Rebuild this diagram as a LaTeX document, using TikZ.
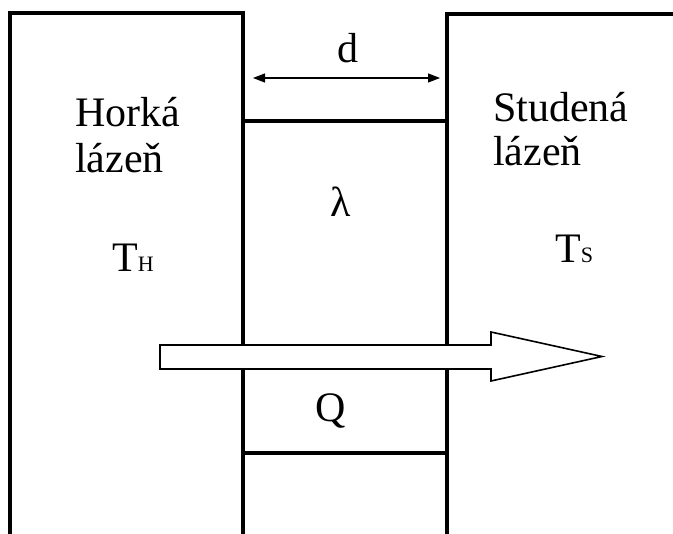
\documentclass[tikz,border=0pt]{standalone}
\usepackage{fontspec}
\setmainfont{Liberation Serif}
\usepackage{tikz}
\usetikzlibrary{arrows.meta}
\tikzset{
  wall/.style={line width=4pt,line join=miter},
  dim/.style={{Triangle[length=12pt,width=9pt]}-{Triangle[length=12pt,width=9pt]},line width=1.2pt},
  flow/.style={draw,fill=white,line width=1.6pt,line join=miter},
  lbl/.style={inner sep=0pt,anchor=base west,font=\fontsize{42}{46}\selectfont},
}
\newcommand{\sub}[1]{{\fontsize{22}{22}\selectfont #1}}
\begin{document}
\begin{tikzpicture}[x=1pt,y=-1pt]
 \useasboundingbox (0,0) rectangle (673,534);
 % baths and slab
 \coordinate (hl) at (10,534); \coordinate (ht) at (243,13); \coordinate (cl) at (447,14);
 \draw[wall] (hl) |- (ht) -- (243,534);
 \draw[wall] (447,534) -- (cl) -- (673,14);
 \draw[wall] (243,121) coordinate (s1) -- (447,121) coordinate (s2);
 \draw[wall] (243,453) coordinate (s3) -- (447,453) coordinate (s4);
 % thickness d
 \coordinate (da) at (253,78); \coordinate (db) at (440,78);
 \draw[dim] (da) -- (db);
 \node[lbl] (d) at (337,63){d};
 % heat flow
 \draw[flow] (160,345) -- (491,345) -- (491,332) -- (602,356.5) -- (491,381) -- (491,369) -- (160,369) -- cycle;
 % labels
 \node[lbl] (hot1) at (75,127){Horká}; \node[lbl] (hot2) at (75,173){lázeň};
 \node[lbl] (th) at (112,272){T\sub{H}};
 \node[lbl] (cold1) at (493,122){Studená}; \node[lbl] (cold2) at (493,166){lázeň};
 \node[lbl] (ts) at (555,263){T\sub{S}};
 \node[lbl] (lam) at (330,217){λ};
 \node[lbl] (q) at (315,422){Q};
\end{tikzpicture}
\end{document}
